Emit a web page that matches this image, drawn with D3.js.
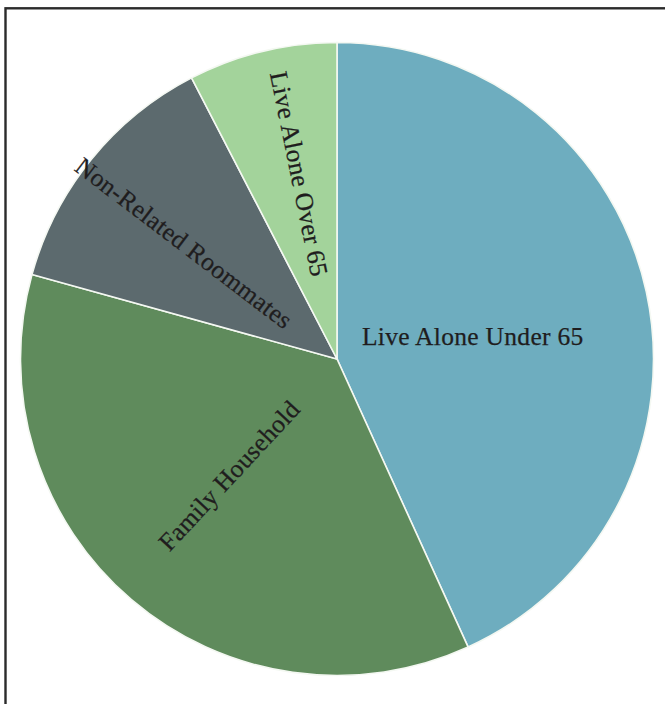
<!DOCTYPE html>
<html>
<head>
<meta charset="utf-8">
<script src="https://cdn.jsdelivr.net/npm/d3@7"></script>
<style>
  html, body { margin: 0; padding: 0; background: #fff; }
  svg { display: block; }
</style>
</head>
<body>
<svg id="chart" width="665" height="704"></svg>
<script>
// Household composition shares (percent)
const categories = ["Live Alone Under 65", "Family Household", "Non-Related Roommates", "Live Alone Over 65"];
const shares = [43.2, 36.1, 13.1, 7.6];
const colors = ["#6eadbf", "#5f8b5c", "#5c6a6e", "#a3d39b"];

// Label placement: radius as a fraction of the pie radius, and a small angular nudge (degrees)
const labelRadius = [0.435, 0.502, 0.607, 0.597];
const labelNudge = [2.6, 2.4, -1.8, 2.2];

const width = 665, height = 704;
const cx = 337, cy = 359, R = 316.5;

const svg = d3.select("#chart");

// outer frame
svg.append("rect")
  .attr("x", 5.5).attr("y", 8.3)
  .attr("width", 800).attr("height", 800)
  .attr("fill", "none")
  .attr("stroke", "#2b2b2b")
  .attr("stroke-width", 2.4);

const data = categories.map((c, i) => ({ name: c, value: shares[i], color: colors[i], i }));

const pie = d3.pie().value(d => d.value).sort(null);
const arc = d3.arc().innerRadius(0).outerRadius(R);

const g = svg.append("g").attr("transform", `translate(${cx},${cy})`);

const arcs = pie(data);

g.selectAll("path.slice")
  .data(arcs)
  .join("path")
  .attr("class", "slice")
  .attr("d", arc)
  .attr("fill", d => d.data.color)
  .attr("stroke", "#f4f8f2")
  .attr("stroke-width", 1.6);

// labels run along the radius on the left half, flat on the right half
g.selectAll("text.lbl")
  .data(arcs)
  .join("text")
  .attr("class", "lbl")
  .attr("transform", d => {
    const mid = (d.startAngle + d.endAngle) / 2;
    const a = mid + labelNudge[d.data.i] * Math.PI / 180;
    const r = R * labelRadius[d.data.i];
    const x = r * Math.sin(a), y = -r * Math.cos(a);
    const rot = mid > Math.PI ? a * 180 / Math.PI + 90 : 0;
    return `translate(${x},${y}) rotate(${rot})`;
  })
  .attr("text-anchor", "middle")
  .attr("dy", "0.35em")
  .attr("font-family", "'Liberation Serif', 'Times New Roman', serif")
  .attr("font-size", 25.5)
  .attr("letter-spacing", 0.3)
  .attr("fill", "#1f1d1e")
  .attr("stroke", "#1f1d1e")
  .attr("stroke-width", 0.25)
  .text(d => d.data.name);
</script>
</body>
</html>
